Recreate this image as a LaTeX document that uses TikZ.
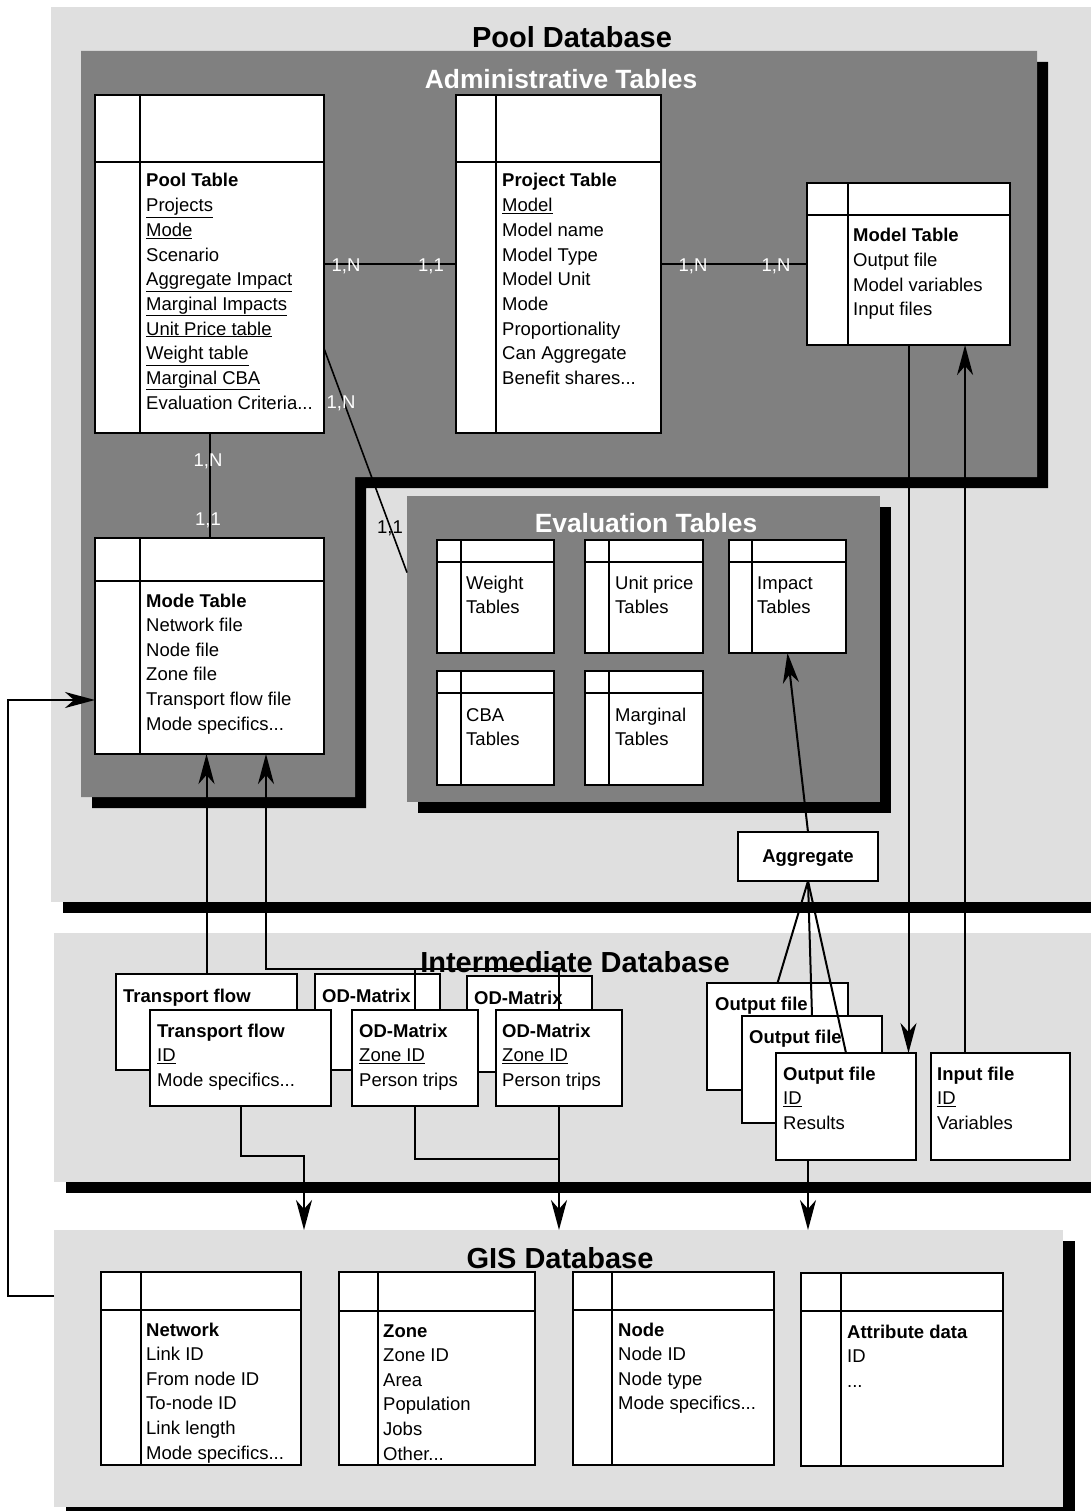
\documentclass[tikz,border=0pt]{standalone}
\usepackage{fontspec}
\setmainfont{Liberation Sans}
\usetikzlibrary{arrows.meta,calc}
\definecolor{lg}{RGB}{223,223,223}
\definecolor{dg}{RGB}{128,128,128}
\newcommand\tfont{\fontsize{18.5}{24.7}\selectfont}
\newcommand\ddd{...}
% table with header separator and left divider
\newcommand\dbtab[7]{%
  \pgfmathsetmacro\boxw{#4-#2}\pgfmathsetmacro\boxh{#5-#3}%
  \node[card, minimum width=\boxw pt, minimum height=\boxh pt] (#1) at (#2,#3) {};
  \draw[sepln] (#2,#6) -- (#4,#6);
  \draw[sepln] (#7,#3) -- (#7,#5);
}
\newcommand\pbox[5]{%
  \pgfmathsetmacro\boxw{#4-#2}\pgfmathsetmacro\boxh{#5-#3}%
  \node[card, minimum width=\boxw pt, minimum height=\boxh pt] (#1) at (#2,#3) {};
}
\newcommand\tlines[5]{%
  \foreach [count=\i from 0] \lbl in {#5}
    \node[txt] (#1\i) at (#2,{#3+1+\i*#4}) {\lbl};
}
\begin{document}
\begin{tikzpicture}[x=1pt,y=-1pt,
  txt/.style={anchor=base west, inner sep=0pt, font=\tfont},
  bigtitle/.style={font=\fontsize{29}{34}\selectfont\bfseries, inner sep=0pt},
  paneltitle/.style={font=\fontsize{26.4}{30}\selectfont\bfseries, text=white, inner sep=0pt},
  card/.style={draw=black, fill=white, line width=1.2pt, anchor=north west, inner sep=0pt, outer sep=0pt},
  sepln/.style={line width=1.2pt},
  conn/.style={line width=2pt},
  arr/.style={conn, -{Stealth[length=30pt,width=16pt,inset=9pt]}},
  wlab/.style={font=\tfont, inner sep=0pt, text=white, anchor=base},
  blab/.style={font=\tfont, inner sep=0pt, anchor=base},
  shadow/.style={fill=black},
]
\useasboundingbox (0,0) rectangle (1091,1511);
\clip (0,0) rectangle (1091,1511);
\fill[white] (0,0) rectangle (1091,1511);

% ---------- Pool database background ----------
\fill[lg] (51,7) rectangle (1091,902);
\fill[shadow] (63,902) rectangle (1091,913);

% administrative panel (L shape) with shadow
\fill[shadow] (92,62) -- (1048,62) -- (1048,488) -- (366,488) -- (366,808) -- (92,808) -- cycle;
\fill[dg] (81,51) -- (1037,51) -- (1037,477) -- (355,477) -- (355,797) -- (81,797) -- cycle;

% evaluation panel with shadow
\fill[shadow] (418,507) rectangle (891,813);
\node[fill=dg, anchor=north west, inner sep=0pt, outer sep=0pt, minimum width=473pt, minimum height=306pt] (evalp) at (407,496) {};

% ---------- Intermediate database background ----------
\fill[lg] (54,933) rectangle (1091,1182);
\fill[shadow] (66,1182) rectangle (1091,1193);

% ---------- GIS database background ----------
\fill[shadow] (66,1241) rectangle (1075,1520);
\node[fill=lg, anchor=north west, inner sep=0pt, outer sep=0pt, minimum width=1009pt, minimum height=277pt] (gis) at (54,1230) {};

% ---------- titles ----------
\node[bigtitle] (tPool) at (572,37) {Pool Database};
\node[paneltitle] (tAdmin) at (561,79) {Administrative Tables};
\node[paneltitle] (tEval) at (646,523) {Evaluation Tables};
\node[bigtitle] (tInter) at (575,962) {Intermediate Database};
\node[bigtitle] (tGis) at (560,1258) {GIS Database};

% ---------- administrative tables ----------
\dbtab{pool}{95}{95}{324}{433}{162}{140}
\dbtab{project}{456}{95}{661}{433}{162}{496}
\dbtab{model}{807}{183}{1010}{345}{215}{848}
\dbtab{mode}{95}{538}{324}{754}{581}{140}

\tlines{pt}{146}{186}{24.68}{{\textbf{Pool Table}},{\underline{Projects}},{\underline{Mode}},Scenario,{\underline{Aggregate Impact}},{\underline{Marginal Impacts}},{\underline{Unit Price table}},{\underline{Weight table}},{\underline{Marginal CBA}},{Evaluation Criteria\ddd}}
\tlines{pj}{502}{186}{24.68}{{\textbf{Project Table}},{\underline{Model}},Model name,Model Type,Model Unit,Mode,Proportionality,Can Aggregate,{Benefit shares\ddd}}
\tlines{mt}{853}{241}{24.6}{{\textbf{Model Table}},Output file,Model variables,Input files}
\tlines{md}{146}{606}{24.6}{{\textbf{Mode Table}},Network file,Node file,Zone file,Transport flow file,{Mode specifics\ddd}}

% ---------- evaluation tables ----------
\dbtab{weight}{437}{540}{554}{653}{562}{461}
\dbtab{unitp}{585}{540}{703}{653}{562}{609}
\dbtab{impact}{729}{540}{846}{653}{562}{752}
\dbtab{cba}{437}{671}{554}{785}{693}{461}
\dbtab{marg}{585}{671}{703}{785}{693}{609}
\tlines{ew}{466}{588}{24.5}{Weight,Tables}
\tlines{eu}{615}{588}{24.5}{Unit price,Tables}
\tlines{ei}{757}{588}{24.5}{Impact,Tables}
\tlines{ec}{466}{720}{24.5}{CBA,Tables}
\tlines{em}{615}{720}{24.5}{Marginal,Tables}

% ---------- aggregate ----------
\node[card, minimum width=140pt, minimum height=49pt, text depth=0pt, font=\tfont\bfseries] (aggr) at (738,832) {Aggregate};

% ---------- intermediate boxes ----------
\pbox{tfb}{116}{974}{297}{1070}
\pbox{odb1}{315}{974}{440}{1070}
\pbox{odb2}{467}{976}{592}{1072}
\tlines{tbt}{123}{1001}{24.6}{{\textbf{Transport flow}}}
\tlines{obt}{322}{1001}{24.6}{{\textbf{OD-Matrix}}}
\tlines{oct}{474}{1003}{24.6}{{\textbf{OD-Matrix}}}
\pbox{tff}{150}{1010}{331}{1106}
\pbox{odf1}{352}{1010}{478}{1106}
\pbox{odf2}{496}{1010}{622}{1106}
\tlines{tft}{157}{1036}{24.6}{{\textbf{Transport flow}},{\underline{ID}},{Mode specifics\ddd}}
\tlines{oft}{359}{1036}{24.6}{{\textbf{OD-Matrix}},{\underline{Zone ID}},Person trips}
\tlines{ogt}{502}{1036}{24.6}{{\textbf{OD-Matrix}},{\underline{Zone ID}},Person trips}

\pbox{of1}{707}{983}{848}{1090}
\tlines{o1t}{715}{1009}{24.6}{{\textbf{Output file}}}
\pbox{of2}{742}{1016}{882}{1123}
\tlines{o2t}{749}{1042}{24.6}{{\textbf{Output file}}}
\pbox{of3}{776}{1053}{916}{1160}
\tlines{o3t}{783}{1079}{24.6}{{\textbf{Output file}},{\underline{ID}},Results}
\pbox{inp}{931}{1053}{1070}{1160}
\tlines{ipt}{937}{1079}{24.6}{{\textbf{Input file}},{\underline{ID}},Variables}

% ---------- GIS tables ----------
\dbtab{network}{101}{1272}{301}{1465}{1310}{141}
\dbtab{zone}{339}{1272}{535}{1465}{1311}{378}
\dbtab{node}{573}{1272}{774}{1465}{1310}{612}
\dbtab{attr}{801}{1273}{1003}{1466}{1311}{841}
\tlines{gn}{146}{1335}{24.6}{{\textbf{Network}},Link ID,From node ID,To-node ID,Link length,{Mode specifics\ddd}}
\tlines{gz}{383}{1336}{24.6}{{\textbf{Zone}},Zone ID,Area,Population,Jobs,{Other\ddd}}
\tlines{gd}{618}{1335}{24.6}{{\textbf{Node}},Node ID,Node type,{Mode specifics\ddd}}
\tlines{ga}{847}{1337}{24.6}{{\textbf{Attribute data}},ID,{\ddd}}

% ---------- connectors ----------
\draw[conn] (pool.east) -- (project.west);
\draw[conn] (project.east) -- (model.west);
\draw[conn] (pool.south) -- (mode.north);
\draw[line width=1.6pt] ($(pool.south east)!0.25!(pool.north east)$) -- ($(evalp.north west)!0.25!(evalp.south west)$);

\draw[arr] (aggr.north) -- (impact.south);
\draw[conn] (aggr.south) -- (of1.north);
\draw[conn] (aggr.south) -- (of2.north);
\draw[conn] (aggr.south) -- (of3.north);

\draw[arr] (model.south) -- (model.south |- of3.north);
\coordinate (inup) at ($(inp.north west)!0.245!(inp.north east)$);
\draw[arr] (inup) -- (inup |- model.south);

\draw[arr] (tfb.north) -- (tfb.north |- mode.south);
\coordinate (odjoin) at (266,969);
\draw[conn] (odf1.north) -- (odf1.north |- odjoin);
\draw[arr] (odf2.north) |- (odjoin) -- (odjoin |- mode.south);

\coordinate (tfbend) at (304,1156);
\draw[arr] (tff.south) |- (tfbend) -- (tfbend |- gis.north);
\coordinate (odbot) at (559,1159);
\draw[conn] (odf1.south) |- (odbot);
\draw[arr] (odf2.south) -- (odf2.south |- gis.north);
\draw[arr] (of3.south -| aggr.south) -- (aggr.south |- gis.north);

\coordinate (gisL) at ($(gis.north west)!0.24!(gis.south west)$);
\coordinate (modeL) at ($(mode.north west)!0.75!(mode.south west)$);
\draw[arr] (gisL) -- ++(-46,0) |- (modeL);

% ---------- cardinality labels ----------
\node[wlab] (c1) at (346,272) {1,N};
\node[wlab] (c2) at (431,272) {1,1};
\node[wlab] (c3) at (693,272) {1,N};
\node[wlab] (c4) at (776,272) {1,N};
\node[wlab] (c5) at (208,466) {1,N};
\node[wlab] (c6) at (208,525) {1,1};
\node[wlab] (c7) at (341,408) {1,N};
\node[blab] (c8) at (390,533) {1,1};
\end{tikzpicture}
\end{document}
